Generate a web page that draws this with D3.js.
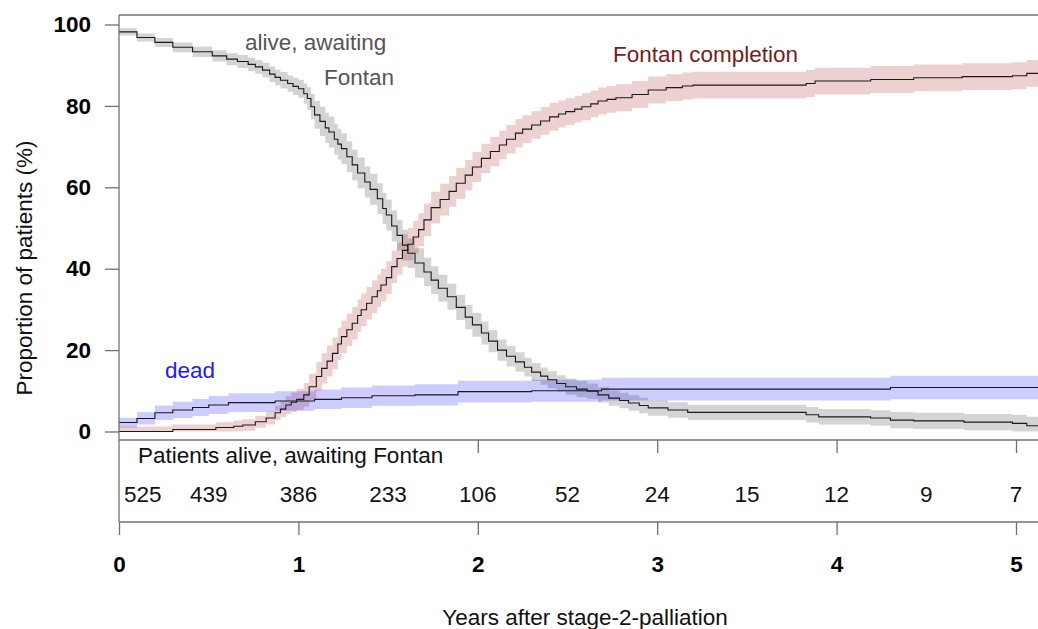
<!DOCTYPE html>
<html>
<head>
<meta charset="utf-8">
<script src="https://cdn.jsdelivr.net/npm/d3@7"></script>
<style>
  html, body { margin: 0; padding: 0; background: #fff; }
  svg { display: block; font-family: "Liberation Sans", Arial, Helvetica, sans-serif; }
</style>
</head>
<body>
<svg id="chart" width="1038" height="629"></svg>
<script>
// Cumulative incidence after stage-2 palliation (competing outcomes), in %
// alive, awaiting Fontan
const aliveTime = [0, 0.10, 0.20, 0.30, 0.41, 0.52, 0.60, 0.66, 0.72, 0.76, 0.80, 0.84, 0.87, 0.90, 0.94,
  0.97, 1.00, 1.03, 1.05, 1.07, 1.09, 1.12, 1.15, 1.17, 1.20, 1.22, 1.24, 1.27, 1.30, 1.33,
  1.37, 1.40, 1.44, 1.47, 1.49, 1.52, 1.55, 1.58, 1.61, 1.65, 1.70, 1.74, 1.78, 1.83, 1.88,
  1.93, 1.97, 2.02, 2.06, 2.11, 2.16, 2.21, 2.26, 2.30, 2.35, 2.39, 2.44, 2.49, 2.55, 2.61,
  2.67, 2.73, 2.79, 2.84, 2.90, 2.95, 3.06, 3.17, 3.83, 3.90, 4.19, 4.30, 4.43, 4.71, 4.98,
  5.06, 5.20];
const aliveEst = [98.2, 96.8, 95.6, 94.4, 93.3, 92.3, 91.5, 90.9, 90.2, 89.6, 88.8, 87.8, 87.0, 86.3, 85.5,
  84.8, 84.2, 83.0, 81.8, 79.8, 77.8, 76.2, 74.6, 73.6, 71.8, 70.6, 69.5, 67.5, 65.5, 63.5,
  61.3, 59.5, 57.2, 54.8, 53.2, 50.5, 48.2, 45.8, 43.8, 41.4, 39.2, 37.2, 35.2, 33.1, 30.5,
  28.1, 26.2, 24.2, 22.2, 20.0, 18.5, 17.1, 15.8, 14.6, 13.6, 12.7, 11.8, 11.0, 10.4, 9.9,
  9.0, 8.2, 7.6, 7.0, 6.4, 5.8, 5.3, 4.7, 4.1, 3.6, 3.3, 2.8, 2.6, 2.3, 2.0,
  1.4, 1.4];
// half-width of the confidence band
const aliveSpread = [0.9, 1.0, 1.1, 1.2, 1.3, 1.4, 1.5, 1.6, 1.7, 1.7, 1.8, 1.9, 1.9, 2.0, 2.0,
  2.1, 2.2, 2.5, 2.8, 3.1, 3.4, 3.6, 3.7, 3.8, 3.8, 3.8, 3.8, 3.8, 3.8, 3.8,
  3.8, 3.8, 3.8, 3.8, 3.8, 3.8, 3.8, 3.8, 3.7, 3.6, 3.5, 3.4, 3.3, 3.2, 3.1,
  3.0, 2.9, 2.8, 2.7, 2.6, 2.5, 2.4, 2.3, 2.2, 2.1, 2.1, 2.0, 2.0, 2.0, 1.9,
  1.9, 1.9, 1.9, 1.9, 1.9, 1.9, 1.9, 1.9, 1.9, 1.9, 1.9, 2.0, 2.0, 2.0, 2.1,
  2.2, 2.2];

// Fontan completion
const fontanTime = [0, 0.30, 0.54, 0.64, 0.69, 0.76, 0.82, 0.87, 0.90, 0.93, 0.96, 0.99, 1.03, 1.06, 1.10,
  1.13, 1.16, 1.19, 1.22, 1.24, 1.27, 1.30, 1.33, 1.35, 1.38, 1.41, 1.44, 1.46, 1.49, 1.52,
  1.55, 1.58, 1.61, 1.64, 1.67, 1.70, 1.74, 1.79, 1.84, 1.88, 1.93, 1.97, 2.02, 2.07, 2.12,
  2.16, 2.21, 2.25, 2.30, 2.35, 2.40, 2.45, 2.49, 2.54, 2.58, 2.63, 2.67, 2.72, 2.77, 2.86,
  2.95, 3.05, 3.14, 3.20, 3.83, 3.88, 4.19, 4.43, 4.70, 4.98, 5.06, 5.20];
const fontanEst = [0, 0.5, 1.0, 1.3, 1.6, 2.4, 3.3, 4.6, 5.5, 6.5, 7.2, 7.9, 9.0, 11.0, 13.5,
  15.5, 17.3, 19.2, 21.5, 23.3, 25.0, 26.6, 28.5, 29.9, 31.5, 33.1, 34.6, 36.0, 37.8, 40.5,
  42.5, 44.5, 46.0, 47.8, 49.6, 52.0, 55.0, 57.0, 59.0, 61.0, 63.0, 65.0, 67.1, 68.8, 70.4,
  71.8, 73.3, 74.3, 75.3, 76.3, 77.3, 78.0, 78.6, 79.2, 79.8, 80.5, 81.2, 81.6, 82.0, 82.8,
  83.9, 84.5, 84.9, 85.1, 85.5, 86.1, 86.5, 86.9, 87.2, 87.4, 88.0, 88.0];
const fontanSpread = [1.2, 1.2, 1.3, 1.4, 1.4, 1.5, 1.6, 1.8, 2.0, 2.2, 2.4, 2.6, 2.9, 3.2, 3.5,
  3.7, 3.8, 3.9, 4.0, 4.0, 4.0, 4.0, 4.0, 4.0, 4.0, 4.0, 4.0, 4.0, 4.0, 4.0,
  4.0, 4.0, 4.0, 4.0, 4.0, 4.0, 3.9, 3.9, 3.8, 3.8, 3.7, 3.7, 3.6, 3.6, 3.5,
  3.5, 3.5, 3.4, 3.4, 3.4, 3.4, 3.3, 3.3, 3.3, 3.3, 3.3, 3.3, 3.3, 3.3, 3.3,
  3.3, 3.3, 3.3, 3.3, 3.3, 3.3, 3.3, 3.3, 3.3, 3.3, 3.3, 3.3];

// dead
const deadTime = [0, 0.10, 0.20, 0.30, 0.41, 0.50, 0.61, 0.87, 1.09, 1.24, 1.41, 1.65, 1.89, 2.30, 2.69, 4.30, 5.20];
const deadEst = [2.2, 3.2, 4.6, 5.3, 5.9, 6.5, 7.1, 7.5, 7.9, 8.3, 8.8, 9.0, 9.8, 10.0, 10.4, 10.8, 10.8];
const deadSpread = [1.2, 1.5, 1.8, 2.0, 2.1, 2.2, 2.3, 2.4, 2.4, 2.5, 2.5, 2.6, 2.7, 2.7, 2.8, 2.9, 2.9];

// axes and number-at-risk table
const yTicks = [0, 20, 40, 60, 80, 100];
const xTicks = [0, 1, 2, 3, 4, 5];
const atRiskTime = [0, 0.5, 1, 1.5, 2, 2.5, 3, 3.5, 4, 4.5, 5];
const atRiskCount = [525, 439, 386, 233, 106, 52, 24, 15, 12, 9, 7];

const svg = d3.select("#chart");
const W = 1038;
const FS = 22.5;

const x = d3.scaleLinear().domain([0, 5]).range([119, 1016]);
const y = d3.scaleLinear().domain([0, 100]).range([431.5, 24.5]);

const frame = "#707070";

function series(time, est, spread) {
  return time.map((t, i) => ({ t, est: est[i], lo: Math.max(0, est[i] - spread[i]), hi: Math.min(100, est[i] + spread[i]) }));
}
const curves = [
  { data: series(aliveTime, aliveEst, aliveSpread), fill: "rgba(0,0,0,0.17)" },
  { data: series(fontanTime, fontanEst, fontanSpread), fill: "rgba(165,20,20,0.2)" },
  { data: series(deadTime, deadEst, deadSpread), fill: "rgba(0,0,255,0.2)" }
];

const band = d3.area().curve(d3.curveStepAfter)
  .x(d => x(d.t)).y0(d => y(d.lo)).y1(d => y(d.hi));
const line = d3.line().curve(d3.curveStepAfter)
  .x(d => x(d.t)).y(d => y(d.est));

const plot = svg.append("g");
curves.forEach(c => {
  plot.append("path").attr("d", band(c.data)).attr("fill", c.fill).attr("stroke", "none");
});
curves.forEach(c => {
  plot.append("path").attr("d", line(c.data)).attr("fill", "none")
    .attr("stroke", "#1a1a1a").attr("stroke-width", 1.1);
});

// frame of plot panel and table
const fr = svg.append("g").attr("stroke", frame).attr("stroke-width", 1.3);
fr.append("line").attr("x1", 119).attr("x2", W).attr("y1", 15).attr("y2", 15);
fr.append("line").attr("x1", 119).attr("x2", 119).attr("y1", 15).attr("y2", 522);
fr.append("line").attr("x1", 119).attr("x2", W).attr("y1", 440).attr("y2", 440);
fr.append("line").attr("x1", 119).attr("x2", W).attr("y1", 522).attr("y2", 522);

// y axis
const gy = svg.append("g").attr("transform", "translate(119,0)")
  .call(d3.axisLeft(y).tickValues(yTicks).tickSize(14).tickPadding(14).tickFormat(d3.format("d")));
gy.select(".domain").remove();
gy.selectAll(".tick line").attr("stroke", frame).attr("stroke-width", 1.3);
gy.selectAll(".tick text").attr("font-size", FS).attr("font-weight", "bold")
  .attr("fill", "#000").attr("font-family", "Liberation Sans, Arial, sans-serif");

// x axis below the table
const gx = svg.append("g").attr("transform", "translate(0,522)")
  .call(d3.axisBottom(x).tickValues(xTicks).tickSize(13).tickPadding(21).tickFormat(d3.format("d")));
gx.select(".domain").remove();
gx.selectAll(".tick line").attr("stroke", frame).attr("stroke-width", 1.3);
gx.selectAll(".tick text").attr("font-size", FS).attr("font-weight", "bold")
  .attr("fill", "#000").attr("font-family", "Liberation Sans, Arial, sans-serif");

// inner ticks at the top of the table
const gt = svg.append("g").attr("transform", "translate(0,440)")
  .call(d3.axisBottom(x).tickValues([2, 3, 4, 5]).tickSize(13).tickFormat(""));
gt.select(".domain").remove();
gt.selectAll(".tick line").attr("stroke", frame).attr("stroke-width", 1.3);

// number at risk
svg.append("text").attr("x", 138).attr("y", 463).attr("font-size", FS).attr("fill", "#111")
  .text("Patients alive, awaiting Fontan");
svg.append("g").selectAll("text").data(atRiskTime).join("text")
  .attr("x", (t, i) => i === 0 ? x(t) + 5 : x(t))
  .attr("y", 502)
  .attr("text-anchor", (t, i) => i === 0 ? "start" : "middle")
  .attr("font-size", FS).attr("fill", "#111")
  .text((t, i) => atRiskCount[i]);

// curve labels
svg.append("text").attr("x", 245).attr("y", 50).attr("font-size", FS).attr("fill", "#555")
  .text("alive, awaiting");
svg.append("text").attr("x", 324).attr("y", 85).attr("font-size", FS).attr("fill", "#555")
  .text("Fontan");
svg.append("text").attr("x", 613).attr("y", 62).attr("font-size", FS).attr("fill", "#7a1a1a")
  .text("Fontan completion");
svg.append("text").attr("x", 165).attr("y", 378).attr("font-size", FS).attr("fill", "#2020ee")
  .text("dead");

// axis titles
svg.append("text").attr("transform", "translate(32,268) rotate(-90)")
  .attr("text-anchor", "middle").attr("font-size", FS).attr("fill", "#111")
  .text("Proportion of patients (%)");
svg.append("text").attr("x", 585).attr("y", 625)
  .attr("text-anchor", "middle").attr("font-size", FS).attr("fill", "#111")
  .text("Years after stage-2-palliation");
</script>
</body>
</html>
